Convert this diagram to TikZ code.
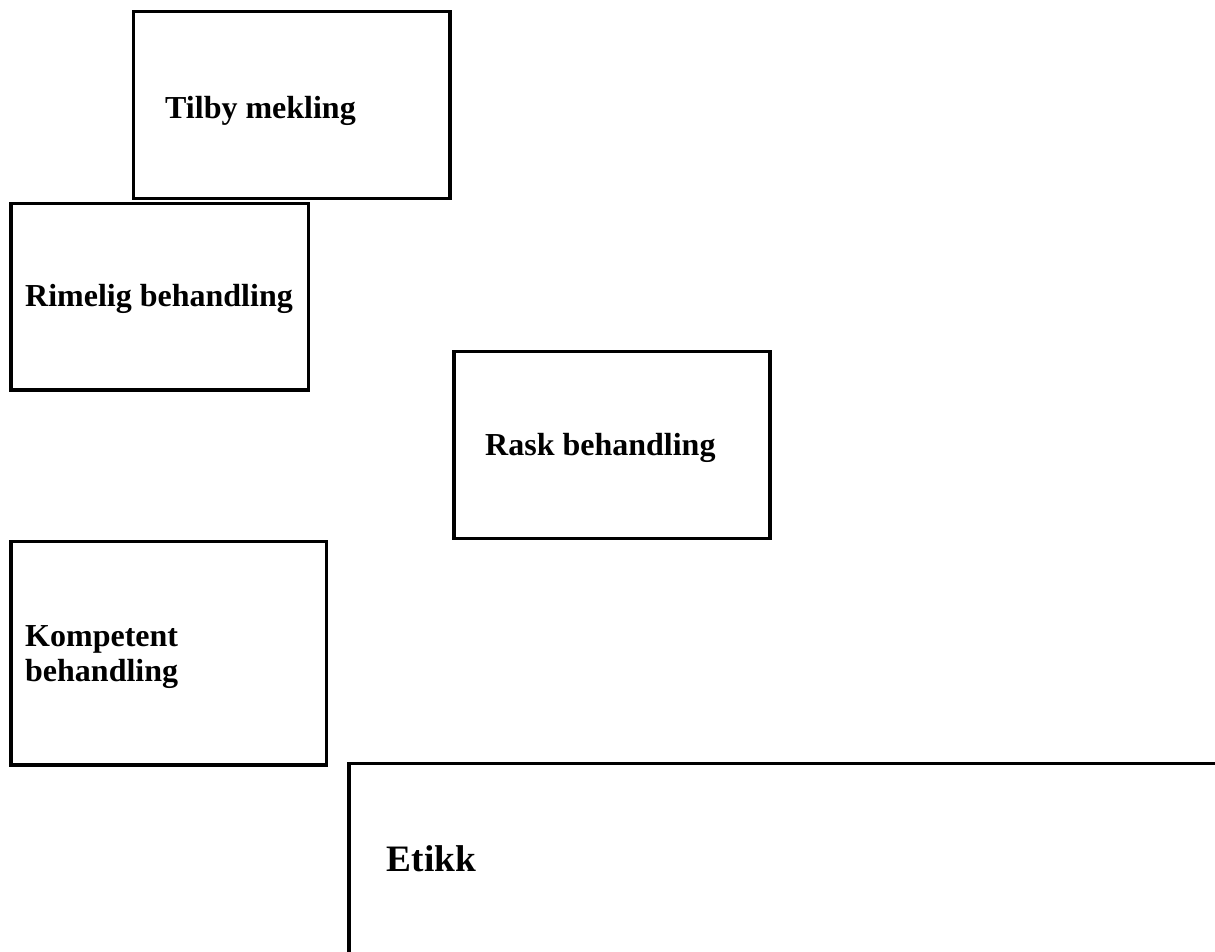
\documentclass[tikz,border=0pt]{standalone}
\usepackage{fontspec}
\setmainfont{Liberation Serif}
\begin{document}
\begin{tikzpicture}[x=1pt,y=-1pt,
  box/.style={draw=black, line width=3.2pt, inner sep=0pt},
  lbl/.style={inner sep=0pt, anchor=base west, font=\fontsize{32}{35}\selectfont\bfseries},
  biglbl/.style={inner sep=0pt, anchor=base west, font=\fontsize{37.3}{42}\selectfont\bfseries}]
\useasboundingbox (0,0) rectangle (1215,952);
\clip (0,0) rectangle (1215,952);
\fill[white] (0,0) rectangle (1215,952);
% boxes
\draw[box] (133.7,11.7) rectangle (450,198.3) node[pos=0.5] (tilby) {};
\draw[box] (11,203.3) rectangle (308.3,390) node[pos=0.5] (rimelig) {};
\draw[box] (454,351.7) rectangle (770,538.3) node[pos=0.5] (rask) {};
\draw[box] (11,541.7) rectangle (326.7,765) node[pos=0.5] (kompetent) {};
\draw[box] (349,763.3) rectangle (1240,975) node[pos=0.5] (etikk) {};
% labels
\node[lbl] (tTilby) at (165,118.3) {Tilby mekling};
\node[lbl] (tRimelig) at (25,306.7) {Rimelig behandling};
\node[lbl] (tRask) at (485,455) {Rask behandling};
\node[lbl] (tKomp1) at (25,646.7) {Kompetent};
\node[lbl] (tKomp2) at (25,681.7) {behandling};
\node[biglbl] (tEtikk) at (386.7,871.7) {Etikk};
\end{tikzpicture}
\end{document}
